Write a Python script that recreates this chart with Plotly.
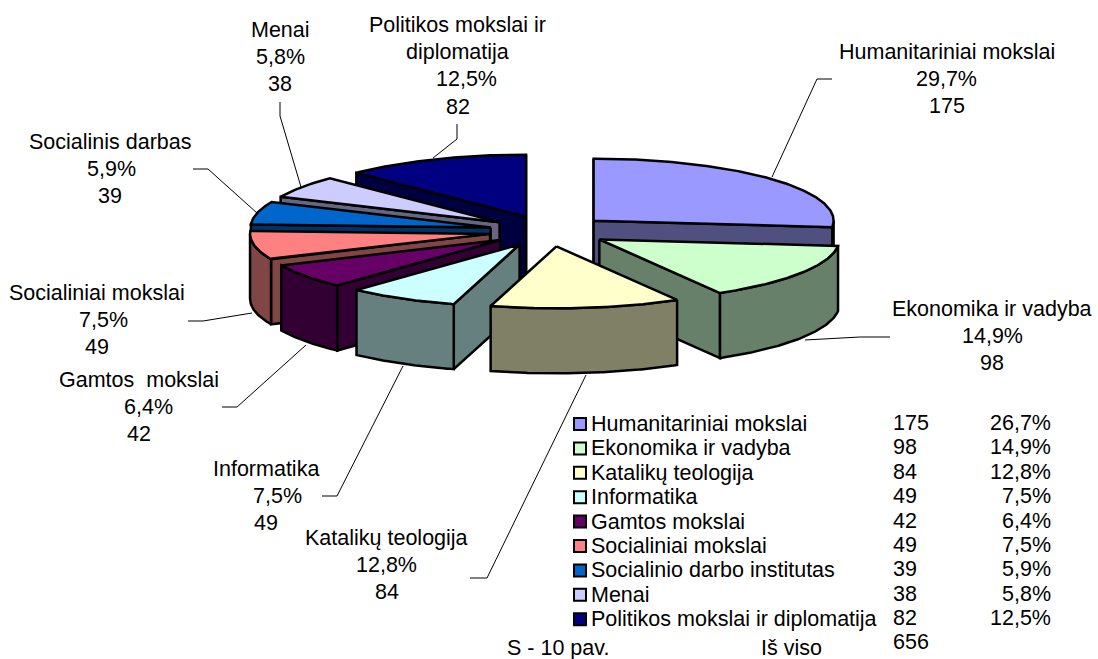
import math
import plotly.graph_objects as go

# ---- data ----
categories = ["Humanitariniai mokslai", "Ekonomika ir vadyba", "Katalikų teologija", "Informatika",
              "Gamtos mokslai", "Socialiniai mokslai", "Socialinio darbo institutas", "Menai",
              "Politikos mokslai ir diplomatija"]
counts = [175, 98, 84, 49, 42, 49, 39, 38, 82]
table_percents = ["26,7%", "14,9%", "12,8%", "7,5%", "6,4%", "7,5%", "5,9%", "5,8%", "12,5%"]
label_names = [["Humanitariniai mokslai"], ["Ekonomika ir vadyba"], ["Katalikų teologija"], ["Informatika"],
               ["Gamtos  mokslai"], ["Socialiniai mokslai"], ["Socialinis darbas"], ["Menai"],
               ["Politikos mokslai ir", "diplomatija"]]
label_percents = ["29,7%", "14,9%", "12,8%", "7,5%", "6,4%", "7,5%", "5,9%", "5,8%", "12,5%"]
total_label = "656"

# ---- styling / layout ----
top_colors = ["#9999FF", "#CCFFCC", "#FFFFCC", "#CCFFFF", "#660066", "#FF8080", "#0066CC", "#CCCCFF", "#000080"]
side_colors = ["#4F4F80", "#66806A", "#808066", "#668080", "#330033", "#804545", "#003366", "#666680", "#000040"]
CX, CY, RX, RY, DEPTH, EXPLODE = 549, 231, 240, 62, 65, 0.25
draw_order = [8, 0, 7, 6, 5, 4, 1, 3, 2]
# centre x of the label, y of its first line, shift of the percent line
label_pos = [(947, 52, -1), (992, 309, 0), (386.5, 538, 0), (266, 469, 11), (139, 380, 9), (97, 293, 6), (110, 142, 1),
             (280, 30, 0), (457.5, 25, 9)]
LINE = 27.2
leaders = [[(832, 79), (817, 79), (772, 177)],
           [(890, 337), (860, 337), (805, 340)],
           [(470, 578), (487, 578), (586, 375)],
           [(322, 496), (337, 496), (403, 366)],
           [(222, 407), (237, 407), (306, 345)],
           [(188, 321), (203, 321), (252, 313)],
           [(193, 169), (208, 169), (257, 213)],
           [(280, 102), (280, 116), (301, 187)],
           [(457, 124), (457, 139), (433, 158)]]
FONT = "Liberation Sans, Arial, sans-serif"
FS = 21.5

fig = go.Figure()


def poly(xs, ys, color):
    fig.add_trace(go.Scatter(x=xs + xs[:1], y=ys + ys[:1], mode="lines", fill="toself", fillcolor=color,
                             line=dict(color="black", width=2.5), hoverinfo="skip", showlegend=False))


total = sum(counts)
edges = [0.0]
for c in counts:
    edges.append(edges[-1] + 360.0 * c / total)


def pt(ox, oy, deg):
    r = math.radians(deg)
    return ox + RX * math.sin(r), oy - RY * math.cos(r)


def arc(ox, oy, a, b):
    n = max(2, int(abs(b - a) * 2))
    return [pt(ox, oy, a + (b - a) * i / n) for i in range(n + 1)]


for i in draw_order:
    a, b = edges[i], edges[i + 1]
    mid = math.radians((a + b) / 2)
    ox = CX + EXPLODE * RX * math.sin(mid)
    oy = CY - EXPLODE * RY * math.cos(mid)
    side = side_colors[i]
    if math.sin(math.radians(a)) < 1e-9:
        px, py = pt(ox, oy, a)
        poly([ox, px, px, ox], [oy, py, py + DEPTH, oy + DEPTH], side)
    if math.sin(math.radians(b)) > -1e-9:
        px, py = pt(ox, oy, b)
        poly([ox, px, px, ox], [oy, py, py + DEPTH, oy + DEPTH], side)
    lo, hi = max(a, 90), min(b, 270)
    if hi > lo:
        rim = arc(ox, oy, lo, hi)
        poly([p[0] for p in rim] + [p[0] for p in reversed(rim)],
             [p[1] for p in rim] + [p[1] + DEPTH for p in reversed(rim)], side)
    rim = arc(ox, oy, a, b)
    poly([ox] + [p[0] for p in rim], [oy] + [p[1] for p in rim], top_colors[i])

for path in leaders:
    fig.add_trace(go.Scatter(x=[p[0] for p in path], y=[p[1] for p in path], mode="lines",
                             line=dict(color="black", width=1), hoverinfo="skip", showlegend=False))


def note(x, y, text, anchor="center"):
    fig.add_annotation(x=x, y=y, xref="x", yref="y", text=text, showarrow=False, xanchor=anchor, yanchor="middle",
                       align=anchor, borderpad=0, borderwidth=0, font=dict(family=FONT, size=FS, color="black"))


for i, (x, y, shift) in enumerate(label_pos):
    lines = label_names[i] + [label_percents[i], str(counts[i])]
    for j, line in enumerate(lines):
        note(x + (shift if j == len(lines) - 2 else 0), y + LINE * j, line)

ROW0, ROWH = 424, 24.4
fig.add_trace(go.Scatter(x=[580] * len(categories), y=[ROW0 + ROWH * i for i in range(len(categories))],
                         mode="markers", hoverinfo="skip", showlegend=False,
                         marker=dict(symbol="square", size=12, color=top_colors, line=dict(color="black", width=2))))
for i, name in enumerate(categories):
    y = ROW0 + ROWH * i
    note(591, y, name, "left")
    note(893, y - 1, str(counts[i]), "left")
    note(1051, y - 1, table_percents[i], "right")

note(507, 648, "S - 10 pav.", "left")
note(761, 648, "Iš viso", "left")
note(893, 642, total_label, "left")

fig.update_layout(width=1098, height=659, margin=dict(l=0, r=0, t=0, b=0), autosize=False,
                  paper_bgcolor="white", plot_bgcolor="white", showlegend=False,
                  xaxis=dict(range=[0, 1098], visible=False, fixedrange=True),
                  yaxis=dict(range=[659, 0], visible=False, fixedrange=True))
fig.write_html("out.html", config={"displayModeBar": False},
               post_script="document.body.style.margin='0';document.body.style.overflow='hidden';")
